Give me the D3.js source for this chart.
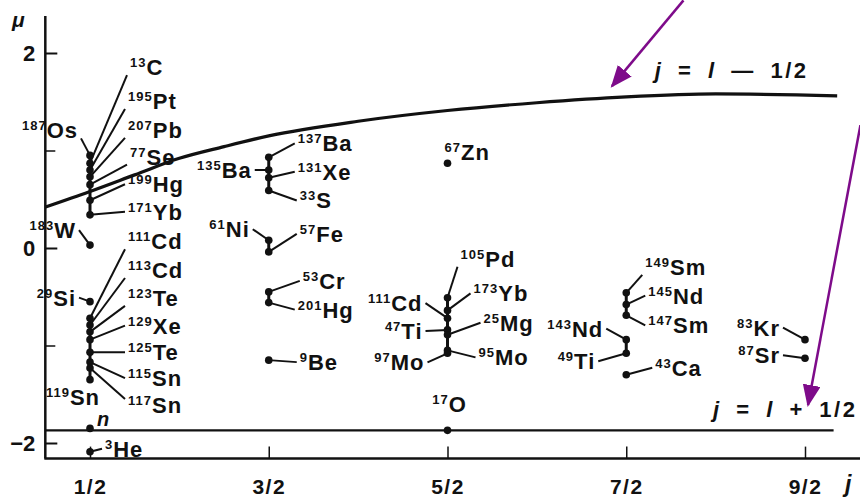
<!DOCTYPE html>
<html>
<head>
<meta charset="utf-8">
<script src="https://cdn.jsdelivr.net/npm/d3@7"></script>
<style>
  body { margin: 0; background: #fff; }
  text { font-family: "Liberation Sans", Arial, sans-serif; font-weight: bold; fill: #111; }
</style>
</head>
<body>
<div id="container"></div>
<script>
var width = 860;
var height = 499;

// nuclides, spin j and magnetic moment mu
var names = ["13C","195Pt","207Pb","77Se","199Hg","171Yb","187Os","183W","29Si","111Cd","113Cd","123Te","129Xe","125Te","115Sn","117Sn","119Sn","n","3He",
  "137Ba","135Ba","131Xe","33S","61Ni","57Fe","53Cr","201Hg","9Be",
  "67Zn","105Pd","173Yb","111Cd","47Ti","25Mg","95Mo","97Mo","17O",
  "149Sm","145Nd","147Sm","143Nd","49Ti","43Ca",
  "83Kr","87Sr"];
var spins = [0.5,0.5,0.5,0.5,0.5,0.5,0.5,0.5,0.5,0.5,0.5,0.5,0.5,0.5,0.5,0.5,0.5,0.5,0.5,
  1.5,1.5,1.5,1.5,1.5,1.5,1.5,1.5,1.5,
  2.5,2.5,2.5,2.5,2.5,2.5,2.5,2.5,2.5,
  3.5,3.5,3.5,3.5,3.5,3.5,
  4.5,4.5];
var moments = [0.87,0.80,0.73,0.65,0.49,0.34,0.95,0.03,-0.55,-0.72,-0.79,-0.86,-0.94,-1.07,-1.17,-1.23,-1.35,-1.85,-2.09,
  0.93,0.80,0.72,0.59,0.08,-0.04,-0.45,-0.56,-1.15,
  0.87,-0.51,-0.64,-0.72,-0.84,-0.89,-1.05,-1.08,-1.87,
  -0.46,-0.58,-0.69,-0.94,-1.08,-1.30,
  -0.94,-1.13];

// Schmidt line j = l - 1/2
var upperJ  = [0.25, 0.5, 0.75, 1.0, 1.25, 1.5, 2.0, 2.5, 3.0, 3.5, 4.0, 4.68];
var upperMu = [0.42, 0.58, 0.75, 0.92, 1.04, 1.15, 1.30, 1.41, 1.49, 1.55, 1.58, 1.56];
// Schmidt line j = l + 1/2
var lowerJ  = [0.25, 4.66];
var lowerMu = [-1.87, -1.87];

var jTicks = [0.5, 1.5, 2.5, 3.5, 4.5];
var jTickLabels = ["1/2", "3/2", "5/2", "7/2", "9/2"];
var muTicks = [2, 0, -2];
var muTickLabels = ["2", "0", "\u22122"];
var muMinorTicks = [1, -1];

// label placement relative to each dot: [dx, dy, anchor, pointer]
var labelLayout = [
  [40,-96,"start",1],[38,-69,"start",1],[38,-47,"start",1],[40,-28,"start",1],[38,-16,"start",1],[38,-3,"start",1],
  [-12,-25,"end",1],[-14,-15,"end",1],[-14,-4,"end",1],
  [38,-77,"start",1],[38,-55,"start",1],[38,-34,"start",1],[38,-14,"start",1],[38,0,"start",1],[38,16,"start",1],[38,37,"start",1],
  [10,17,"end",0],[7,-10,"start",0],[15,-3,"start",1],
  [29,-14,"start",1],[-17,0,"end",1],[29,-6,"start",1],[31,10,"start",1],[-19,-11,"end",1],[31,-18,"start",1],[34,-11,"start",1],[29,7,"start",1],[31,2,"start",1],
  [-3,-11,"start",0],[13,-39,"start",1],[26,-17,"start",1],[-25,-15,"end",1],[-25,1,"end",1],[36,-12,"start",1],[31,7,"start",1],[-23,9,"end",1],[2,-26,"middle",0],
  [19,-26,"start",1],[22,-9,"start",1],[22,10,"start",1],[-23,-11,"end",1],[-31,8,"end",1],[29,-7,"start",1],
  [-25,-12,"end",1],[-25,-3,"end",1]
];

var svg = d3.select("div#container").append("svg")
    .attr("width", width)
    .attr("height", height);

var x = d3.scaleLinear().domain([0.5, 4.5]).range([90, 805]);
var y = d3.scaleLinear().domain([-2, 2]).range([443, 53]);

var axisJ = [0.25, 4.82];
var axisMu = [-2.16, 2.38];

// frame lines
svg.append("line")
    .attr("x1", x(axisJ[0])).attr("x2", x(axisJ[0]))
    .attr("y1", y(axisMu[1])).attr("y2", y(axisMu[0]))
    .attr("stroke", "#111").attr("stroke-width", 2.5);
svg.append("line")
    .attr("x1", x(axisJ[0]) - 1).attr("x2", x(axisJ[1]))
    .attr("y1", y(axisMu[0])).attr("y2", y(axisMu[0]))
    .attr("stroke", "#111").attr("stroke-width", 2.5);

// y ticks
var yAxis = d3.axisLeft(y).tickValues(muTicks).tickSize(-12).tickPadding(10)
    .tickFormat(function(d, i) { return muTickLabels[i]; });
var yg = svg.append("g").attr("transform", "translate(" + x(axisJ[0]) + ",0)").call(yAxis);
yg.select(".domain").remove();
yg.selectAll(".tick line").attr("stroke", "#111").attr("stroke-width", 2);
yg.selectAll(".tick text").attr("font-size", 22).attr("font-family", null).attr("fill", "#111");

var yMinor = d3.axisLeft(y).tickValues(muMinorTicks).tickSize(-10).tickFormat("");
var ym = svg.append("g").attr("transform", "translate(" + x(axisJ[0]) + ",0)").call(yMinor);
ym.select(".domain").remove();
ym.selectAll(".tick line").attr("stroke", "#111").attr("stroke-width", 1.5);

// x ticks
var xAxis = d3.axisBottom(x).tickValues(jTicks).tickSize(-12).tickPadding(20)
    .tickFormat(function(d, i) { return jTickLabels[i]; });
var xg = svg.append("g").attr("transform", "translate(0," + y(axisMu[0]) + ")").call(xAxis);
xg.select(".domain").remove();
xg.selectAll(".tick line").attr("stroke", "#111").attr("stroke-width", 1.5);
xg.selectAll(".tick text").attr("font-size", 21).attr("font-family", null).attr("fill", "#111")
    .attr("letter-spacing", 1.5);

svg.append("text").attr("x", 12).attr("y", 27).attr("font-size", 21).attr("font-style", "italic").text("\u03bc");
svg.append("text").attr("x", 845).attr("y", 492).attr("font-size", 23).attr("font-style", "italic").text("j");

// Schmidt lines
var line = d3.line()
    .x(function(d) { return x(d[0]); })
    .y(function(d) { return y(d[1]); })
    .curve(d3.curveMonotoneX);

svg.append("path")
    .attr("d", line(d3.zip(upperJ, upperMu)))
    .attr("fill", "none").attr("stroke", "#111").attr("stroke-width", 3.2);
svg.append("path")
    .attr("d", line(d3.zip(lowerJ, lowerMu)))
    .attr("fill", "none").attr("stroke", "#111").attr("stroke-width", 2.2);

// line captions
var cap1 = svg.append("text").attr("x", x(3.66)).attr("y", y(1.74))
    .attr("font-size", 22).attr("letter-spacing", 2.5).attr("word-spacing", 6);
cap1.append("tspan").attr("font-style", "italic").text("j");
cap1.append("tspan").text(" = ");
cap1.append("tspan").attr("font-style", "italic").text("l");
cap1.append("tspan").text(" \u2014 1/2");

var cap2 = svg.append("text").attr("x", x(3.985)).attr("y", y(-1.73))
    .attr("font-size", 22).attr("letter-spacing", 2.5).attr("word-spacing", 6);
cap2.append("tspan").attr("font-style", "italic").text("j");
cap2.append("tspan").text(" = ");
cap2.append("tspan").attr("font-style", "italic").text("l");
cap2.append("tspan").text(" + 1/2");

// points
var points = names.map(function(n, i) {
  return { name: n, j: spins[i], mu: moments[i], lay: labelLayout[i] };
});

// join close dots at the same j into the dense columns seen in the figure
d3.groups(points, function(d) { return d.j; }).forEach(function(grp) {
  var ps = grp[1].slice().sort(function(a, b) { return b.mu - a.mu; });
  for (var k = 1; k < ps.length; k++) {
    if (y(ps[k].mu) - y(ps[k - 1].mu) < 16) {
      svg.append("line")
          .attr("x1", x(ps[k].j)).attr("x2", x(ps[k].j))
          .attr("y1", y(ps[k - 1].mu)).attr("y2", y(ps[k].mu))
          .attr("stroke", "#111").attr("stroke-width", 3);
    }
  }
});

var labels = svg.append("g");
points.forEach(function(d) {
  var px = x(d.j), py = y(d.mu);
  var lx = px + d.lay[0], ly = py + d.lay[1];
  if (d.lay[3]) {
    var sy = ly + (d.lay[1] < -20 ? 8 : (d.lay[1] > 20 ? -6 : 0));
    var sx = d.lay[2] === "end" ? lx + 3 : lx - 3;
    labels.append("line")
        .attr("x1", sx).attr("y1", sy)
        .attr("x2", px).attr("y2", py)
        .attr("stroke", "#111").attr("stroke-width", 2);
  }
  var m = d.name.match(/^(\d*)(.+)$/);
  var t = labels.append("text")
      .attr("x", lx).attr("y", ly + 8)
      .attr("text-anchor", d.lay[2])
      .attr("letter-spacing", 1);
  if (m[1]) t.append("tspan").attr("font-size", 13).attr("dy", -8).text(m[1]);
  var sym = t.append("tspan").attr("font-size", 22).attr("dy", m[1] ? 8 : 0).text(m[2]);
  if (!m[1]) sym.attr("font-style", "italic").attr("font-size", 20);
});

svg.selectAll("circle.pt")
    .data(points)
    .enter()
    .append("circle")
    .attr("class", "pt")
    .attr("cx", function(d) { return x(d.j); })
    .attr("cy", function(d) { return y(d.mu); })
    .attr("r", 3.8)
    .attr("fill", "#111");

// purple annotation arrows
var arrowColor = "#7e0b8a";
var arrows = [[[3.82, 2.54], [3.42, 1.66]], [[4.81, 1.26], [4.517, -1.61]]];
svg.append("defs").append("marker")
    .attr("id", "arrowhead")
    .attr("markerUnits", "userSpaceOnUse")
    .attr("viewBox", "0 -9 22 18")
    .attr("markerWidth", 22).attr("markerHeight", 18)
    .attr("refX", 20).attr("refY", 0)
    .attr("orient", "auto")
    .append("path")
    .attr("d", "M0,-9L22,0L0,9Z")
    .attr("fill", arrowColor);

arrows.forEach(function(a) {
  svg.append("line")
      .attr("x1", x(a[0][0])).attr("y1", y(a[0][1]))
      .attr("x2", x(a[1][0])).attr("y2", y(a[1][1]))
      .attr("stroke", arrowColor).attr("stroke-width", 2.5)
      .attr("marker-end", "url(#arrowhead)");
});
</script>
</body>
</html>
